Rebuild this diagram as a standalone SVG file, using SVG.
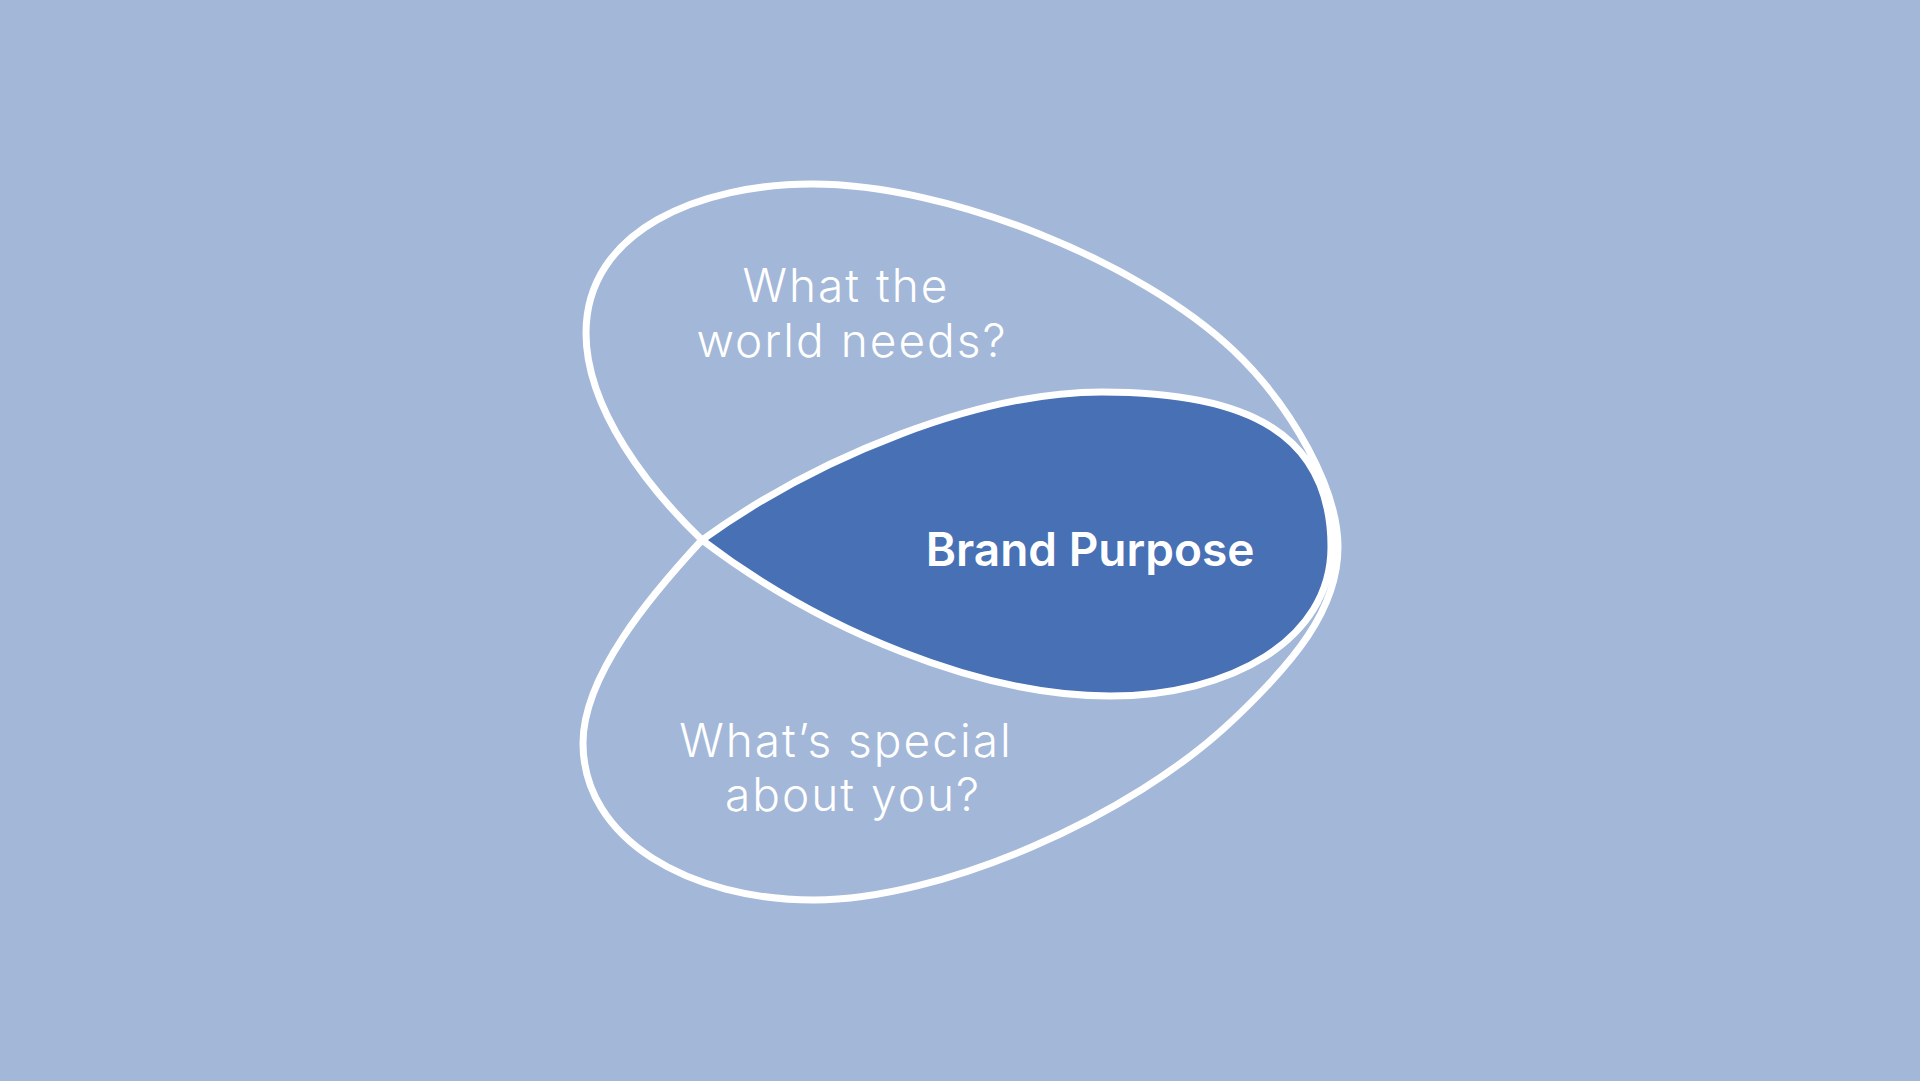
<svg xmlns="http://www.w3.org/2000/svg" width="1920" height="1081" viewBox="0 0 1920 1081">
<style>
.line{fill:none;stroke:#ffffff;stroke-width:7;stroke-linejoin:round;stroke-linecap:round}
.leaf{fill:#4870B4}
.q{font-family:Inter,"Noto Sans",sans-serif;font-weight:300;font-size:46px;fill:#ffffff;text-anchor:middle;letter-spacing:2px}
.bp{font-family:Inter,"Noto Sans",sans-serif;font-weight:600;font-size:46px;fill:#ffffff;text-anchor:middle}
</style>
<rect width="1920" height="1081" fill="#A3B7D8"/>
<g id="brand-purpose">
<path class="leaf" d="M702,540 C820,455 980,392 1102,392 C1250,392 1331,435 1331,547 C1331,640 1230,696 1110,696 C980,696 820,630 702,540 Z"/>
<text class="bp" x="1090" y="566">Brand Purpose</text>
</g>
<g id="connectors">
<path class="line" d="M702,540 C650,490 586,410 586,333 C586,230 700,184 812,184 C950,184 1140,262 1233,350 C1293,407 1338,490 1338,547 C1338,610 1293,663 1233,720 C1130,818 940,900 814,900 C690,900 583,840 583,743 C583,676 650,596 702,540 C820,455 980,392 1102,392 C1250,392 1331,435 1331,547 C1331,640 1230,696 1110,696 C980,696 820,630 702,540 Z"/>
</g>
<g id="world-needs">
<text class="q" x="846" y="302">What the</text>
<text class="q" x="852" y="357">world needs?</text>
</g>
<g id="special">
<text class="q" x="846" y="757">What’s special</text>
<text class="q" x="853" y="811">about you?</text>
</g>
</svg>
